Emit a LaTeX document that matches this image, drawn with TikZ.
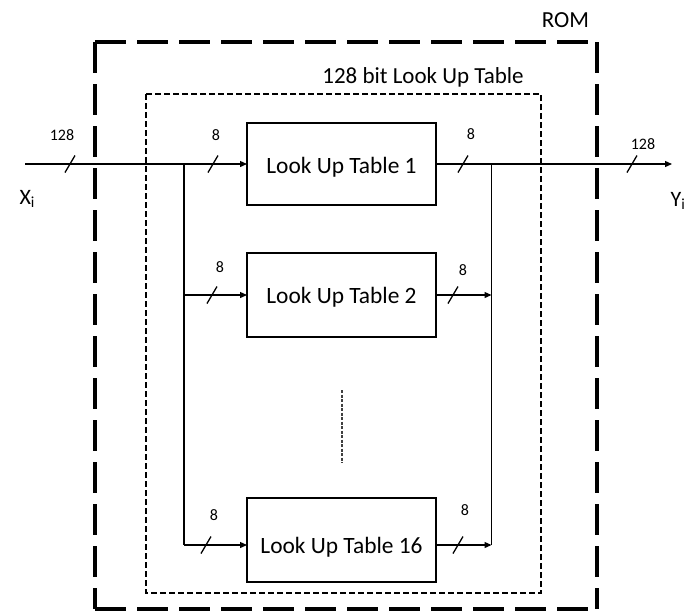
\documentclass[tikz,border=0pt]{standalone}
\usepackage{fontspec}
\setmainfont{Carlito}
\usetikzlibrary{arrows.meta}
\begin{document}
\begin{tikzpicture}[x=1pt,y=-1pt,
  wire/.style={line width=1.3pt},
  sig/.style={wire,-{Triangle[length=7pt,width=6pt]}},
  lut/.style={draw,line width=1.3pt,inner sep=0pt,outer sep=0pt,
    minimum width=189pt,anchor=north west,
    font=\fontsize{23.4}{28}\selectfont},
  numlbl/.style={font=\fontsize{16}{19}\selectfont,anchor=base},
  biglbl/.style={font=\fontsize{23}{28}\selectfont,anchor=base},
  rom/.style={line width=4pt,dash pattern=on 31pt off 11pt},
  inner/.style={line width=1.8pt,dash pattern=on 6pt off 3pt},
  dots/.style={line width=2pt,draw=black!75,dash pattern=on 3pt off 1.5pt}]
\useasboundingbox (0,0) rectangle (686,611);

% ROM outline, each side drawn from its top/left end
\coordinate (r1) at (95,42);
\coordinate (r2) at (597,42);
\coordinate (r3) at (597,609);
\coordinate (r4) at (95,609);
\draw[rom] (r1) -- (r2);
\draw[rom] (r1) -- (r4);
\draw[rom] (r2) -- (r3);
\draw[rom] (r4) -- (r3);
\node[biglbl] (romlbl) at (565.5,27) {ROM};

% 128 bit look up table outline
\coordinate (i1) at (146,94);
\coordinate (i2) at (541,593);
\draw[inner] (i1) rectangle (i2);
\node[biglbl] (lutlbl) at (423,83) {128 bit Look Up Table};

% the look up tables
\node[lut,text height=50pt,text depth=32pt] (t1) at (247,123) {Look Up Table 1};
\node[lut,text height=50pt,text depth=34pt] (t2) at (247,253) {Look Up Table 2};
\node[lut,text height=55pt,text depth=29pt] (t16) at (247,498) {Look Up Table 16};

% elided tables in between
\coordinate (v1) at (341.5,390);
\coordinate (v2) at (341.5,463);
\draw[dots] (v1) -- (v2);

% input bus and fan-out
\coordinate (xin) at (25,164);
\coordinate (bl1) at (184,164);
\coordinate (bl2) at (184,295);
\coordinate (bl16) at (184,545);
\draw[sig] (xin) -- (t1.west);
\draw[wire] (bl1) -- (bl16);
\draw[sig] (bl2) -- (t2.west |- bl2);
\draw[sig] (bl16) -- (t16.west |- bl16);

% output collection and bus
\coordinate (br1) at (491.5,164);
\coordinate (br2) at (491.5,295);
\coordinate (br16) at (491.5,545);
\coordinate (yout) at (672,164);
\draw[sig] (t1.east) -- (yout);
\draw[wire] (br1) -- (br16);
\draw[sig] (t2.east |- br2) -- (br2);
\draw[sig] (t16.east |- br16) -- (br16);

% bus width marks
\foreach \sx/\sy [count=\k] in {70/164, 213/164, 463/164, 632/164,
                               212/295, 453/295, 206/545, 458/545}
  \draw[wire] (\sx,\sy) ++(-5,8.5) -- ++(10,-17);

\node[numlbl] (w1) at (62,140) {128};
\node[numlbl] (w2) at (216,140) {8};
\node[numlbl] (w3) at (471,139) {8};
\node[numlbl] (w4) at (643,149) {128};
\node[numlbl] (w5) at (220,272) {8};
\node[numlbl] (w6) at (463,275) {8};
\node[numlbl] (w7) at (214,520) {8};
\node[numlbl] (w8) at (465,515) {8};

% port names
\node[font=\fontsize{22}{26}\selectfont,anchor=base west] (xlbl) at (16,204) {X\textsubscript{i}};
\node[font=\fontsize{22}{26}\selectfont,anchor=base west] (ylbl) at (667,206) {Y\textsubscript{i}};
\end{tikzpicture}
\end{document}
